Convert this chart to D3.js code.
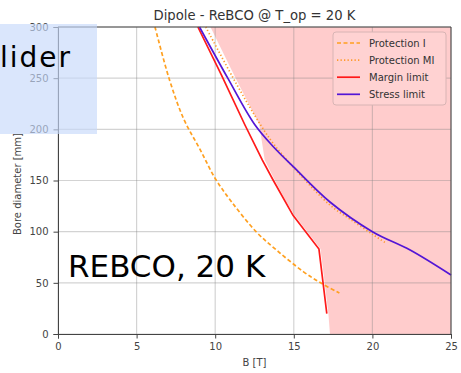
<!DOCTYPE html>
<html>
<head>
<meta charset="utf-8">
<script src="https://cdn.jsdelivr.net/npm/d3@7"></script>
<style>
  body { margin: 0; background: #fff; }
  text { font-family: "DejaVu Sans", sans-serif; }
</style>
</head>
<body>
<div id="chart"></div>
<script>
// Dipole - ReBCO @ T_op = 20 K : bore diameter vs field
const width = 461, height = 373, margin = {top: 27, right: 10, bottom: 39, left: 58};

const xTicks = [0, 5, 10, 15, 20, 25];
const yTicks = [0, 50, 100, 150, 200, 250, 300];

// [B (T), bore (mm)]
const protectionI = [[6.17, 300], [7.1, 248], [8.0, 210], [9.05, 180], [10.0, 152], [11.0, 130], [12.6, 100], [13.9, 82], [15.6, 61], [16.7, 50], [17.9, 40]];
const protectionMI = [[9.4, 300], [11.4, 243], [12.9, 204], [13.7, 186], [15.2, 159], [17.3, 126], [18.6, 112], [20.05, 97], [20.9, 88.5]];
const marginLimit = [[8.9, 300], [10.4, 253], [11.9, 204], [13.0, 170], [13.7, 150], [14.95, 116], [16.6, 83], [17.1, 20]];
const stressLimit = [[9.0, 300], [10.8, 250], [12.5, 205], [13.7, 183], [15.0, 163], [17.3, 129], [20.0, 100], [22.4, 82], [25.0, 57.6]];
const shadedEdge = [[9.7, 300], [11.3, 250], [12.8, 205], [13.15, 170], [13.8, 150], [14.5, 130], [15.05, 116], [16.7, 83], [17.2, 20], [17.3, 0]];

const legendItems = [
  {label: "Protection I", color: "#ffa020", dash: "4,2.5", smooth: true},
  {label: "Protection MI", color: "#ff9a2e", dash: "1.3,2.2", smooth: true},
  {label: "Margin limit", color: "#ff1a1a", dash: null, smooth: false},
  {label: "Stress limit", color: "#5316d6", dash: null, smooth: true}
];

const svg = d3.select("#chart").append("svg").attr("width", width).attr("height", height);

const x = d3.scaleLinear().domain([0, 25]).range([margin.left, width - margin.right]);
const y = d3.scaleLinear().domain([0, 300]).range([height - margin.bottom, margin.top]);

// shaded infeasible region
const areaPts = shadedEdge.map(d => [x(d[0]), y(d[1])]);
areaPts.push([x(25), y(0)], [x(25), y(300)]);
svg.append("path").attr("d", "M" + areaPts.join("L") + "Z").attr("fill", "#ffcccc");

// grid
svg.append("g").selectAll("line").data(xTicks).join("line")
  .attr("x1", d => x(d)).attr("x2", d => x(d)).attr("y1", y(0)).attr("y2", y(300))
  .attr("stroke", "#808080").attr("stroke-opacity", 0.35).attr("stroke-width", 1.2);
svg.append("g").selectAll("line").data(yTicks).join("line")
  .attr("y1", d => y(d)).attr("y2", d => y(d)).attr("x1", x(0)).attr("x2", x(25))
  .attr("stroke", "#808080").attr("stroke-opacity", 0.35).attr("stroke-width", 1.2);

const series = [protectionI, protectionMI, marginLimit, stressLimit];
series.forEach((s, i) => {
  const line = d3.line().x(d => x(d[0])).y(d => y(d[1]))
    .curve(legendItems[i].smooth ? d3.curveCatmullRom.alpha(0.5) : d3.curveLinear);
  svg.append("path").datum(s).attr("d", line).attr("fill", "none")
    .attr("stroke", legendItems[i].color).attr("stroke-width", 1.7)
    .attr("stroke-dasharray", legendItems[i].dash);
});

// axes
const xAxis = svg.append("g").attr("transform", `translate(0,${y(0)})`)
  .call(d3.axisBottom(x).tickValues(xTicks).tickSize(4.5).tickPadding(4));
const yAxis = svg.append("g").attr("transform", `translate(${x(0)},0)`)
  .call(d3.axisLeft(y).tickValues(yTicks).tickSize(4.5).tickPadding(5));
[xAxis, yAxis].forEach(a => {
  a.selectAll("text").attr("font-size", 10).attr("fill", "#444").attr("font-family", "DejaVu Sans");
  a.selectAll("line").attr("stroke", "#444");
  a.select(".domain").attr("stroke", "#444");
});
svg.append("line").attr("x1", x(0)).attr("x2", x(25)).attr("y1", y(300)).attr("y2", y(300)).attr("stroke", "#444");
svg.append("line").attr("x1", x(25)).attr("x2", x(25)).attr("y1", y(0)).attr("y2", y(300)).attr("stroke", "#444");

svg.append("text").attr("x", (x(0) + x(25)) / 2).attr("y", 366).attr("text-anchor", "middle")
  .attr("font-size", 10).attr("fill", "#444").text("B [T]");
svg.append("text").attr("transform", "rotate(-90)").attr("x", -184).attr("y", 21)
  .attr("text-anchor", "middle").attr("font-size", 10).attr("fill", "#444").text("Bore diameter [mm]");
svg.append("text").attr("x", (x(0) + x(25)) / 2).attr("y", 20).attr("text-anchor", "middle")
  .attr("font-size", 13.2).attr("fill", "#333").text("Dipole - ReBCO @ T_op = 20 K");

// legend
const legend = svg.append("g").attr("transform", "translate(333,32)");
legend.append("rect").attr("width", 113).attr("height", 73).attr("rx", 3)
  .attr("fill", "#ffd2d2").attr("stroke", "#d8b4b4").attr("stroke-width", 1);
legendItems.forEach((d, i) => {
  const ly = 11 + i * 17.1;
  legend.append("line").attr("x1", 4).attr("x2", 27).attr("y1", ly).attr("y2", ly)
    .attr("stroke", d.color).attr("stroke-width", 1.7).attr("stroke-dasharray", d.dash);
  legend.append("text").attr("x", 36).attr("y", ly + 3.6).attr("font-size", 10)
    .attr("fill", "#333").text(d.label);
});

// overlay annotations
svg.append("rect").attr("x", 0).attr("y", 24).attr("width", 97).attr("height", 110)
  .attr("fill", "rgb(198,216,250)").attr("fill-opacity", 0.65);
svg.append("text").attr("x", 0).attr("y", 67).attr("font-size", 28).attr("letter-spacing", 2)
  .attr("font-family", "Open Sans, sans-serif").attr("fill", "#000").text("lider");
svg.append("text").attr("x", 68).attr("y", 277).attr("font-size", 31)
  .attr("font-family", "Liberation Sans, Arial, sans-serif").attr("fill", "#000").text("REBCO, 20 K");
</script>
</body>
</html>
